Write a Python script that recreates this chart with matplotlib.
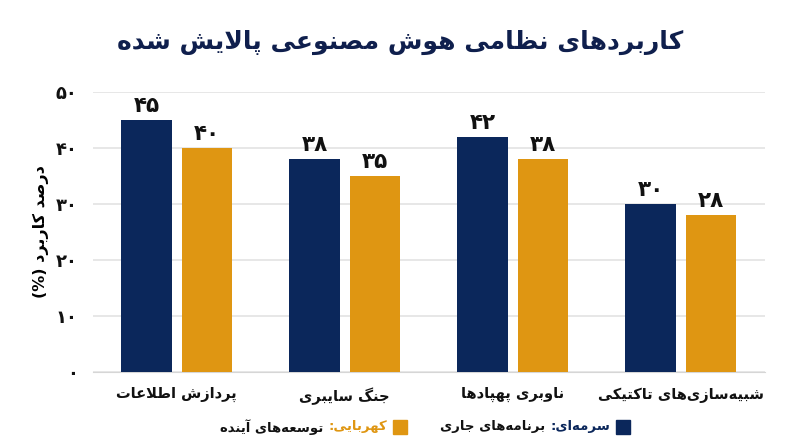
import matplotlib
matplotlib.use('Agg')
import matplotlib.pyplot as plt
from matplotlib.offsetbox import TextArea, HPacker, DrawingArea, AnchoredOffsetbox
from matplotlib.patches import Rectangle
import numpy as np

# data
categories = ['پردازش اطلاعات', 'جنگ سایبری', 'ناوبری پهپادها', 'شبیه‌سازی‌های تاکتیکی']
current = [45, 38, 42, 30]
future = [40, 35, 38, 28]
yticks = [0, 10, 20, 30, 40, 50]

title = 'کاربردهای نظامی هوش مصنوعی پالایش شده'
ylabel = 'درصد کاربرد (%)'
legend_current = ('سرمه‌ای:', 'برنامه‌های جاری')
legend_future = ('کهربایی:', 'توسعه‌های آینده')

NAVY = '#0b275b'
AMBER = '#df9612'
TITLE_C = '#0f1f4d'

# --- minimal Persian shaping (matplotlib has no RTL/joining support) ---
FORMS = {
    'ء': (0xFE80,),
    'آ': (0xFE81, 0xFE82), 'ا': (0xFE8D, 0xFE8E), 'د': (0xFEA9, 0xFEAA),
    'ذ': (0xFEAB, 0xFEAC), 'ر': (0xFEAD, 0xFEAE), 'ز': (0xFEAF, 0xFEB0),
    'ژ': (0xFB8A, 0xFB8B), 'و': (0xFEED, 0xFEEE),
    'ب': (0xFE8F, 0xFE90, 0xFE91, 0xFE92), 'پ': (0xFB56, 0xFB57, 0xFB58, 0xFB59),
    'ت': (0xFE95, 0xFE96, 0xFE97, 0xFE98), 'ث': (0xFE99, 0xFE9A, 0xFE9B, 0xFE9C),
    'ج': (0xFE9D, 0xFE9E, 0xFE9F, 0xFEA0), 'چ': (0xFB7A, 0xFB7B, 0xFB7C, 0xFB7D),
    'ح': (0xFEA1, 0xFEA2, 0xFEA3, 0xFEA4), 'خ': (0xFEA5, 0xFEA6, 0xFEA7, 0xFEA8),
    'س': (0xFEB1, 0xFEB2, 0xFEB3, 0xFEB4), 'ش': (0xFEB5, 0xFEB6, 0xFEB7, 0xFEB8),
    'ص': (0xFEB9, 0xFEBA, 0xFEBB, 0xFEBC), 'ض': (0xFEBD, 0xFEBE, 0xFEBF, 0xFEC0),
    'ط': (0xFEC1, 0xFEC2, 0xFEC3, 0xFEC4), 'ظ': (0xFEC5, 0xFEC6, 0xFEC7, 0xFEC8),
    'ع': (0xFEC9, 0xFECA, 0xFECB, 0xFECC), 'غ': (0xFECD, 0xFECE, 0xFECF, 0xFED0),
    'ف': (0xFED1, 0xFED2, 0xFED3, 0xFED4), 'ق': (0xFED5, 0xFED6, 0xFED7, 0xFED8),
    'ک': (0xFB8E, 0xFB8F, 0xFB90, 0xFB91), 'گ': (0xFB92, 0xFB93, 0xFB94, 0xFB95),
    'ل': (0xFEDD, 0xFEDE, 0xFEDF, 0xFEE0), 'م': (0xFEE1, 0xFEE2, 0xFEE3, 0xFEE4),
    'ن': (0xFEE5, 0xFEE6, 0xFEE7, 0xFEE8), 'ه': (0xFEE9, 0xFEEA, 0xFEEB, 0xFEEC),
    'ی': (0xFBFC, 0xFBFD, 0xFBFE, 0xFBFF), 'ئ': (0xFE89, 0xFE8A, 0xFE8B, 0xFE8C),
}
MIRROR = {'(': ')', ')': '('}


def joins_left(c):
    return c in FORMS and len(FORMS[c]) == 4


def fa(text):
    out = []
    i = 0
    n = len(text)
    while i < n:
        c = text[i]
        prev = text[i - 1] if i > 0 else ''
        nxt = text[i + 1] if i + 1 < n else ''
        jp = joins_left(prev)
        if c == 'ل' and nxt == 'ا':
            out.append(chr(0xFEFC if jp else 0xFEFB))
            i += 2
            continue
        if c in FORMS:
            f = FORMS[c]
            if len(f) == 1:
                out.append(chr(f[0]))
            else:
                jn = len(f) == 4 and nxt in FORMS
                if jp and jn:
                    out.append(chr(f[3]))
                elif jp:
                    out.append(chr(f[1]))
                elif jn:
                    out.append(chr(f[2]))
                else:
                    out.append(chr(f[0]))
        elif c != '\u200c':
            out.append(MIRROR.get(c, c))
        i += 1
    return ''.join(reversed(out))


def fa_num(v):
    return str(v).translate(str.maketrans('0123456789', '۰۱۲۳۴۵۶۷۸۹'))


plt.rcParams['font.family'] = ['DejaVu Sans']

fig = plt.figure(figsize=(8, 4.47), dpi=100)
ax = fig.add_axes([0.116, 0.168, 0.84, 0.626])

x = np.arange(len(categories))
w = 0.3
off = 0.18
b1 = ax.bar(x - off, current, w, color=NAVY, zorder=3)
b2 = ax.bar(x + off, future, w, color=AMBER, zorder=3)

for bars, vals in ((b1, current), (b2, future)):
    for r, v in zip(bars, vals):
        ax.annotate(fa_num(v), (r.get_x() + r.get_width() / 2, v),
                    xytext=(0, 3), textcoords='offset points',
                    ha='center', va='bottom', fontsize=15.5, fontweight='bold',
                    color='#111111')

ax.set_xlim(-0.5, len(categories) - 0.5)
ax.set_ylim(0, 50)
ax.set_yticks(yticks)
ax.set_yticklabels([fa_num(t) for t in yticks], fontsize=13, fontweight='bold')
ax.set_xticks(x)
ax.set_xticklabels([fa(c) for c in categories], fontsize=10.5, fontweight='bold')
ax.tick_params(axis='both', length=0, colors='#111111')
ax.tick_params(axis='x', pad=11)
ax.tick_params(axis='y', pad=11)
ax.grid(axis='y', color='#e3e3e3', linewidth=1.2, zorder=0)
for s in ('top', 'right', 'left'):
    ax.spines[s].set_visible(False)
ax.spines['bottom'].set_color('#d6d6d6')
ax.set_ylabel(fa(ylabel), fontsize=11.5, fontweight='bold', labelpad=5)

fig.text(0.5, 0.905, fa(title), ha='center', va='center', fontsize=18,
         fontweight='bold', color=TITLE_C)


# legend built from pieces, laid out left-to-right visually
def square(color):
    da = DrawingArea(10, 10, 0, 0)
    da.add_artist(Rectangle((0, 0), 10, 10, color=color))
    return da


def txt(s, color):
    return TextArea(fa(s), textprops=dict(color=color, fontsize=9.5,
                                          fontweight='bold'))


items = [
    txt(legend_future[1], '#111111'), txt(legend_future[0], AMBER), square(AMBER),
    TextArea('     '),
    txt(legend_current[1], '#111111'), txt(legend_current[0], NAVY), square(NAVY),
]
pack = HPacker(children=items, align='center', pad=0, sep=4)
anch = AnchoredOffsetbox(loc='center', child=pack, frameon=False,
                         bbox_to_anchor=(0.531, 0.045),
                         bbox_transform=fig.transFigure, borderpad=0)
fig.add_artist(anch)

fig.savefig('out.png', dpi=100, facecolor='white')
